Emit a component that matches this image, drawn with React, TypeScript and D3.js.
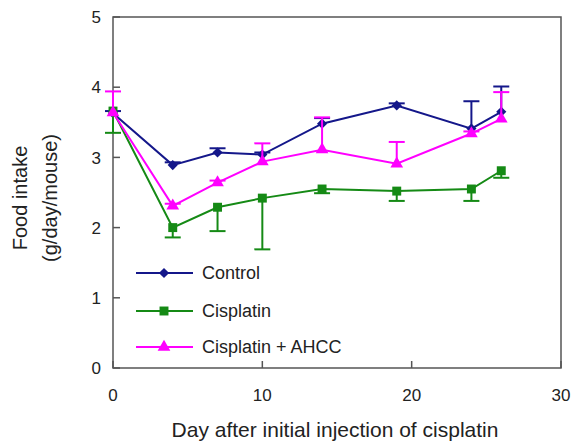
import React from "react";
import * as d3 from "d3";

// days after the first injection
const days = [0, 4, 7, 10, 14, 19, 24, 26];

// food intake means (g/day/mouse)
const controlMean = [3.63, 2.89, 3.07, 3.04, 3.48, 3.74, 3.41, 3.65];
const controlErr = [0.03, 0.04, 0.06, 0.03, 0.08, 0.03, 0.39, 0.36];

const cisplatinMean = [3.66, 2.0, 2.29, 2.42, 2.55, 2.52, 2.55, 2.81];
const cisplatinErr = [0.31, 0.14, 0.34, 0.73, 0.06, 0.14, 0.17, 0.1];

const ahccMean = [3.64, 2.31, 2.64, 2.94, 3.11, 2.91, 3.34, 3.55];
const ahccErr = [0.3, 0.03, 0.03, 0.26, 0.46, 0.31, 0.03, 0.38];

const xTicks = [0, 10, 20, 30];
const yTicks = [0, 1, 2, 3, 4, 5];

const seriesNames = ["Control", "Cisplatin", "Cisplatin + AHCC"];
const seriesColors = ["#14178a", "#158a15", "#ff00ff"];

let width = 571;
let height = 443;

const font = "'Liberation Sans', Arial, Helvetica, sans-serif";

// diamond = square turned 45 degrees, the others from d3
let markerPath = (k: number) => {
  if (k === 0) return d3.symbol().type(d3.symbolSquare).size(52)() || "";
  if (k === 1) return d3.symbol().type(d3.symbolSquare).size(80)() || "";
  return d3.symbol().type(d3.symbolTriangle).size(70)() || "";
};
let markerRotate = (k: number) => (k === 0 ? " rotate(45)" : "");

const App = () => {
  let xScale = d3.scaleLinear().domain([0, 30]).range([113, 561]);
  let yScale = d3.scaleLinear().domain([0, 5]).range([368, 17]);

  let series = [
    { mean: controlMean, err: controlErr, dir: 1 },
    { mean: cisplatinMean, err: cisplatinErr, dir: -1 },
    { mean: ahccMean, err: ahccErr, dir: 1 },
  ];

  let line = d3
    .line<number>()
    .x((d, i) => xScale(days[i]))
    .y((d) => yScale(d));

  let legendY = [273, 311, 347];

  return (
    <svg
      width={width}
      height={height}
      style={{ position: "absolute", left: 0, top: 0, background: "#fff" }}
      fontFamily={font}
    >
      {/* frame */}
      <rect
        x={xScale(0)}
        y={yScale(5)}
        width={xScale(30) - xScale(0)}
        height={yScale(0) - yScale(5)}
        fill="none"
        stroke="#555"
        strokeWidth={1.5}
      />
      {yTicks.map((t) => (
        <g key={"y" + t}>
          <line
            x1={xScale(0)}
            x2={xScale(0) + 7}
            y1={yScale(t)}
            y2={yScale(t)}
            stroke="#555"
            strokeWidth={1.5}
          />
          <text
            x={101}
            y={yScale(t)}
            dy="0.36em"
            textAnchor="end"
            fontSize={17}
            fill="#222"
          >
            {t}
          </text>
        </g>
      ))}
      {xTicks.map((t) => (
        <g key={"x" + t}>
          <line
            x1={xScale(t)}
            x2={xScale(t)}
            y1={yScale(0)}
            y2={yScale(0) - 7}
            stroke="#555"
            strokeWidth={1.5}
          />
          <text
            x={xScale(t)}
            y={401}
            textAnchor="middle"
            fontSize={17}
            fill="#222"
          >
            {t}
          </text>
        </g>
      ))}

      {/* series */}
      {series.map((s, k) => (
        <g key={"s" + k}>
          <path
            d={line(s.mean) || ""}
            fill="none"
            stroke={seriesColors[k]}
            strokeWidth={2}
          />
          {s.mean.map((m, i) => {
            let x = xScale(days[i]);
            let yEnd = yScale(m + s.dir * s.err[i]);
            return (
              <g key={i} stroke={seriesColors[k]} strokeWidth={2}>
                <line x1={x} x2={x} y1={yScale(m)} y2={yEnd} />
                <line x1={x - 8} x2={x + 8} y1={yEnd} y2={yEnd} />
              </g>
            );
          })}
          {s.mean.map((m, i) => (
            <path
              key={"m" + i}
              transform={
                "translate(" + xScale(days[i]) + "," + yScale(m) + ")" + markerRotate(k)
              }
              d={markerPath(k)}
              fill={seriesColors[k]}
            />
          ))}
        </g>
      ))}

      {/* legend */}
      {seriesNames.map((name, k) => (
        <g key={"l" + k}>
          <line
            x1={136}
            x2={193}
            y1={legendY[k]}
            y2={legendY[k]}
            stroke={seriesColors[k]}
            strokeWidth={2}
          />
          <path
            transform={"translate(164," + legendY[k] + ")" + markerRotate(k)}
            d={markerPath(k)}
            fill={seriesColors[k]}
          />
          <text x={202} y={legendY[k]} dy="0.36em" fontSize={18} fill="#222">
            {name}
          </text>
        </g>
      ))}

      {/* axis titles */}
      <text x={335} y={437} textAnchor="middle" fontSize={21} fill="#222">
        Day after initial injection of cisplatin
      </text>
      <text
        transform="translate(27,198) rotate(-90)"
        textAnchor="middle"
        fontSize={20}
        fill="#222"
      >
        Food intake
      </text>
      <text
        transform="translate(57,198) rotate(-90)"
        textAnchor="middle"
        fontSize={20}
        fill="#222"
      >
        (g/day/mouse)
      </text>
    </svg>
  );
};

export default App;
